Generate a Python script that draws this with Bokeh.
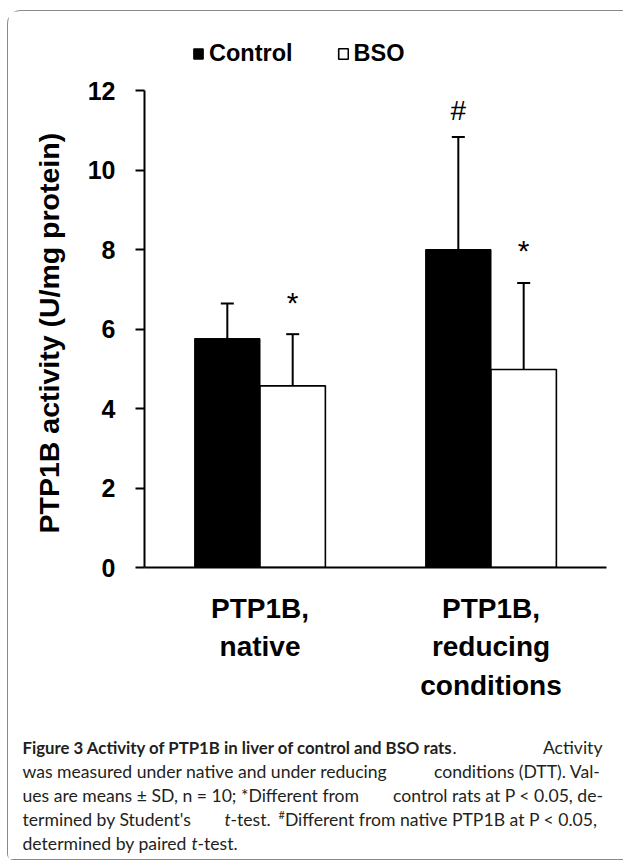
from bokeh.plotting import figure
from bokeh.models import (Range1d, FactorRange, ColumnDataSource, Whisker, TeeHead,
                          Legend, LegendItem, FixedTicker, Title)
from bokeh.transform import dodge
from bokeh.layouts import column
from bokeh.core.properties import value
from bokeh.embed import file_html
from bokeh.resources import INLINE

# ---------------- data ----------------
categories = ["PTP1B,\nnative", "PTP1B,\nreducing\nconditions"]
series_names = ["Control", "BSO"]
control_mean = [5.76, 8.00]
control_sd = [0.88, 2.83]
bso_mean = [4.57, 4.98]
bso_sd = [1.30, 2.18]
control_marks = ["", "#"]
bso_marks = ["*", "*"]
y_ticks = [0, 2, 4, 6, 8, 10, 12]
y_label = "PTP1B activity (U/mg protein)"

caption_bold = "Figure 3 Activity of PTP1B in liver of control and BSO rats"
caption_line1 = [".", "Activity"]
caption_line2 = ["was measured under native and under reducing", "conditions (DTT). Val-"]
caption_line3 = ["ues are means \u00b1 SD, n = 10; *Different from", "control rats at P < 0.05, de-"]
caption_line4 = ["termined by Student's", "t", "-test.", "#", "Different from native PTP1B at P < 0.05,"]
caption_line5 = ["determined by paired", "t", "-test."]

FONT = "Liberation Sans"
CAP_FONT = "Lato"
W = 0.283
Y_TOP = 13.736  # room above the 0-12 axis for the legend

src = ColumnDataSource(dict(
    cat=categories,
    c=control_mean,
    c_up=[m + s for m, s in zip(control_mean, control_sd)],
    b=bso_mean,
    b_up=[m + s for m, s in zip(bso_mean, bso_sd)],
    cm=control_marks,
    bm=bso_marks,
))

p = figure(x_range=FactorRange(*categories, range_padding=0), y_range=Range1d(0, Y_TOP),
           width=601, height=703, output_backend="svg", toolbar_location=None,
           min_border_left=136, min_border_right=3, min_border_top=10, min_border_bottom=147)
p.frame_align = False
p.outline_line_color = None
p.xgrid.visible = False
p.ygrid.visible = False

xc = dodge("cat", -W / 2, range=p.x_range)
xb = dodge("cat", W / 2, range=p.x_range)

r1 = p.vbar(x=xc, top="c", width=W, source=src, fill_color="black", line_color="black", line_width=1)
r2 = p.vbar(x=xb, top="b", width=W, source=src, fill_color="white", line_color="black", line_width=1.6)

for base, up, low in [(xc, "c_up", "c"), (xb, "b_up", "b")]:
    p.add_layout(Whisker(source=src, base=base, lower=low, upper=up, line_width=2, line_color="black",
                         upper_head=TeeHead(size=13, line_width=2, line_color="black"), lower_head=None))

p.text(x=xc, y="c_up", text="cm", source=src, text_align="center", text_baseline="alphabetic",
       y_offset=-27, text_font=value(FONT), text_font_size="28px", text_color="black")
p.text(x=xb, y="b_up", text="bm", source=src, text_align="center", text_baseline="alphabetic",
       y_offset=-32, text_font=value(FONT), text_font_size="30px", text_color="black")

# axes
p.yaxis.bounds = (0, 12)
p.yaxis.ticker = FixedTicker(ticks=y_ticks)
p.yaxis.major_tick_out = 9
p.yaxis.major_tick_in = 0
p.yaxis.minor_tick_out = 0
p.yaxis.minor_tick_in = 0
p.yaxis.axis_line_width = 2
p.yaxis.major_tick_line_width = 2
p.yaxis.major_label_text_font = FONT
p.yaxis.major_label_text_font_style = "bold"
p.yaxis.major_label_text_font_size = "25px"
p.yaxis.major_label_text_color = "black"
p.yaxis.major_label_standoff = 20

# y-axis title, anchored to the 0..12 part of the axis
p.add_layout(Title(text=y_label, align="left", offset=34, standoff=40, text_font=FONT,
                   text_font_style="bold", text_font_size="28.5px", text_color="black"), "left")

p.xaxis.major_tick_out = 0
p.xaxis.major_tick_in = 0
p.xaxis.axis_line_width = 2
p.xaxis.major_label_text_font = FONT
p.xaxis.major_label_text_font_style = "bold"
p.xaxis.major_label_text_font_size = "28px"
p.xaxis.major_label_text_color = "black"
p.xaxis.major_label_text_line_height = 1.25
p.xaxis.major_label_standoff = 25

legend = Legend(items=[LegendItem(label=series_names[0], renderers=[r1]),
                       LegendItem(label=series_names[1], renderers=[r2])],
                orientation="horizontal", location=(48, 500), padding=0, margin=0,
                border_line_color=None, background_fill_alpha=0, spacing=44, label_standoff=5,
                glyph_width=12, glyph_height=13, label_height=27,
                label_text_font=FONT, label_text_font_style="bold", label_text_font_size="23.5px",
                label_text_color="black")
p.add_layout(legend, "center")

# ---------------- caption ----------------
c = figure(width=601, height=145, x_range=Range1d(0, 601), y_range=Range1d(145, 0),
           output_backend="svg", toolbar_location=None, min_border=0,
           x_axis_type=None, y_axis_type=None)
c.frame_align = False
c.outline_line_color = None
c.grid.visible = False

TXT = "#231f20"
FS = "17.6px"
common = dict(text_baseline="middle", text_font=value(CAP_FONT), text_color=TXT)
c.text(x=[14], y=[33], text=[caption_bold], text_align="left", text_font_style="bold",
       text_font_size="16.8px", **common)
c.text(x=[444, 594], y=[33, 33], text=caption_line1, text_align=["left", "right"], text_font_size=FS, **common)
c.text(x=[14, 592], y=[57, 57], text=caption_line2, text_align=["left", "right"], text_font_size=FS, **common)
c.text(x=[14, 595], y=[81, 81], text=caption_line3, text_align=["left", "right"], text_font_size=FS, **common)
c.text(x=[14, 222], y=[105, 105], text=[caption_line4[0], caption_line4[2]], text_align="left",
       text_font_size=FS, **common)
c.text(x=[216], y=[105], text=[caption_line4[1]], text_align="left", text_font_style="italic",
       text_font_size=FS, **common)
c.text(x=[270], y=[100], text=[caption_line4[3]], text_align="left", text_font_size="11px", **common)
c.text(x=[589], y=[105], text=[caption_line4[4]], text_align="right", text_font_size=FS, **common)
c.text(x=[14, 189], y=[129, 129], text=[caption_line5[0], caption_line5[2]], text_align="left",
       text_font_size=FS, **common)
c.text(x=[183], y=[129], text=[caption_line5[1]], text_align="left", text_font_style="italic",
       text_font_size=FS, **common)

layout = column(p, c, styles={"border-left": "1.5px solid #8a8a8a", "border-top": "1.5px solid #8a8a8a",
                              "border-bottom": "1.5px solid #8a8a8a", "border-top-left-radius": "14px",
                              "border-bottom-left-radius": "6px", "margin-top": "10px",
                              "margin-left": "7px", "padding-right": "14px"})

open("out.html", "w").write(file_html(layout, INLINE))
